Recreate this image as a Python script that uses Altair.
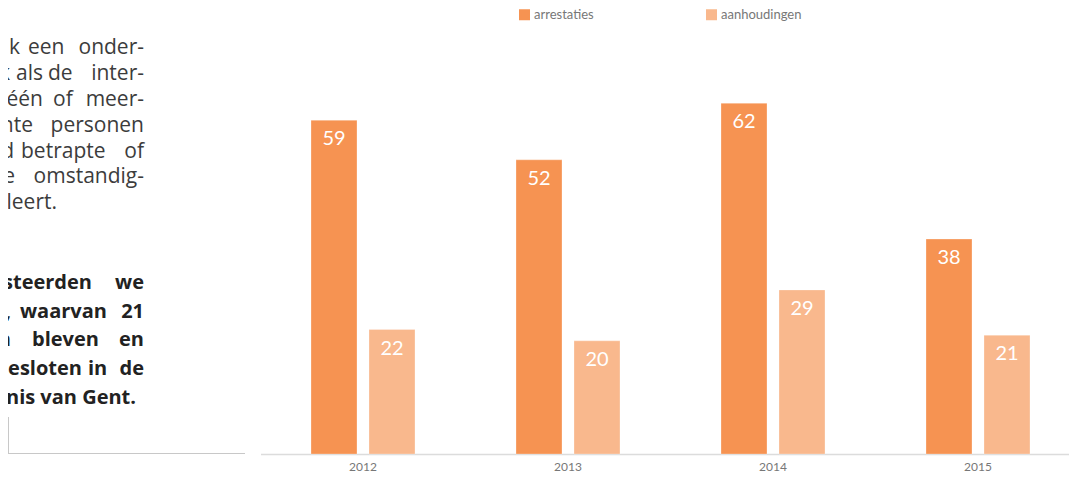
import altair as alt
import pandas as pd

# ---- data ----
years = ["2012", "2013", "2014", "2015"]
arrestaties = [59, 52, 62, 38]
aanhoudingen = [22, 20, 29, 21]
series = ["arrestaties", "aanhoudingen"]
colors = ["#F69352", "#F9B88D"]

regular_lines = ["ak een onder-", "k als de inter-", "één of meer-", "chte personen",
                 "d betrapte of", "e omstandig-", "pleert."]
bold_lines = ["esteerden we", "n, waarvan 21", "n bleven en", "esloten in de", "enis van Gent."]

rows = []
for i, y in enumerate(years):
    rows.append({"jaar": y, "reeks": series[0], "aantal": arrestaties[i]})
    rows.append({"jaar": y, "reeks": series[1], "aantal": aanhoudingen[i]})
df = pd.DataFrame(rows)

FONT = "Lato"
PLOT_W = 809
PLOT_H = 396
ORIGIN_X = 260  # page x of the plot's left edge
ORIGIN_Y = 58   # page y of the plot's top edge

x_enc = alt.X("jaar:N", sort=years, title=None,
              scale=alt.Scale(range=[0.5, 820.5], paddingInner=0, paddingOuter=0),
              axis=alt.Axis(labelAngle=0, ticks=False, domainColor="#dcdcdc", domainWidth=1.5,
                            labelColor="#777777", labelFont=FONT, labelFontSize=12,
                            labelPadding=7, grid=False))
xo_enc = alt.XOffset("reeks:N", sort=series,
                     scale=alt.Scale(paddingInner=0.2069, paddingOuter=0.8707))
y_scale = alt.Scale(domain=[0, 70], nice=False)

base = alt.Chart(df).encode(x=x_enc, xOffset=xo_enc)

bars = base.mark_bar(stroke="#ffffff", strokeOpacity=0.35, strokeWidth=0.8).encode(
    y=alt.Y("aantal:Q", scale=y_scale, axis=None),
    color=alt.Color("reeks:N", sort=series,
                    scale=alt.Scale(domain=series, range=colors),
                    legend=alt.Legend(title=None, orient="none", direction="horizontal",
                                      legendX=258, legendY=-50,
                                      symbolType="square", symbolSize=121,
                                      symbolStrokeWidth=0, symbolOpacity=1,
                                      labelFont=FONT, labelFontSize=13,
                                      labelColor="#777777", labelOffset=3,
                                      columnPadding=111)),
)

labels = base.mark_text(color="white", font=FONT, fontSize=20, baseline="top", dy=9).encode(
    y=alt.Y("aantal:Q", scale=y_scale),
    text=alt.Text("aantal:Q"),
)

# ---- left text block: justified lines, clipped at the page edge like the reference ----
one = pd.DataFrame({"k": [0]})
text_layers = []


def word_layout(n_words, first_right, middle_lefts, right_edge):
    """Anchor (x, align) for each word of a justified line."""
    out = [(first_right, "right")]
    for lx in middle_lefts:
        out.append((lx, "left"))
    if n_words > 1:
        out.append((right_edge, "right"))
    return out


reg_y = [48, 74, 100, 126, 152, 177, 203]
reg_anchor = [(20, [28]), (10, [16, 48]), (43, [53]), (33, []), (14, [21]), (15, []), (57, [])]
for line, yy, (fr, mids) in zip(regular_lines, reg_y, reg_anchor):
    words = line.split(" ")
    for word, (ax, al) in zip(words, word_layout(len(words), fr, mids, 144)):
        text_layers.append(
            alt.Chart(one).mark_text(text=word, align=al, baseline="middle",
                                     font="Open Sans", fontSize=21,
                                     color="#3c3c3c")
            .encode(x=alt.value(ax - ORIGIN_X), y=alt.value(yy - ORIGIN_Y))
        )

bold_y = [283, 312, 340, 369, 398]
bold_anchor = [(92, []), (11, [20]), (11, [32]), (82, [88]), None]
for line, yy, anc in zip(bold_lines, bold_y, bold_anchor):
    if anc is None:
        parts = [(line, 136, "right")]
    else:
        words = line.split(" ")
        parts = [(w, ax, al) for w, (ax, al) in zip(words, word_layout(len(words), anc[0], anc[1], 144))]
    for word, ax, al in parts:
        text_layers.append(
            alt.Chart(one).mark_text(text=word, align=al, baseline="middle",
                                     font="Open Sans", fontSize=20, fontWeight="bold",
                                     color="#222222")
            .encode(x=alt.value(ax - ORIGIN_X), y=alt.value(yy - ORIGIN_Y))
        )

vline = alt.Chart(one).mark_rule(color="#c8c8c8", strokeWidth=1).encode(
    x=alt.value(-251.5), y=alt.value(359), y2=alt.value(395))
hline = alt.Chart(one).mark_rule(color="#c8c8c8", strokeWidth=1).encode(
    x=alt.value(-252), x2=alt.value(-15), y=alt.value(395.5))

chart = alt.layer(bars, labels, vline, hline, *text_layers).properties(
    width=PLOT_W, height=PLOT_H,
    autosize=alt.AutoSizeParams(type="none"),
    padding={"left": 252, "top": 50, "right": 0, "bottom": 20},
).configure(background="white").configure_view(stroke=None)

chart.save("out.html", embed_options={"renderer": "svg", "actions": False})
